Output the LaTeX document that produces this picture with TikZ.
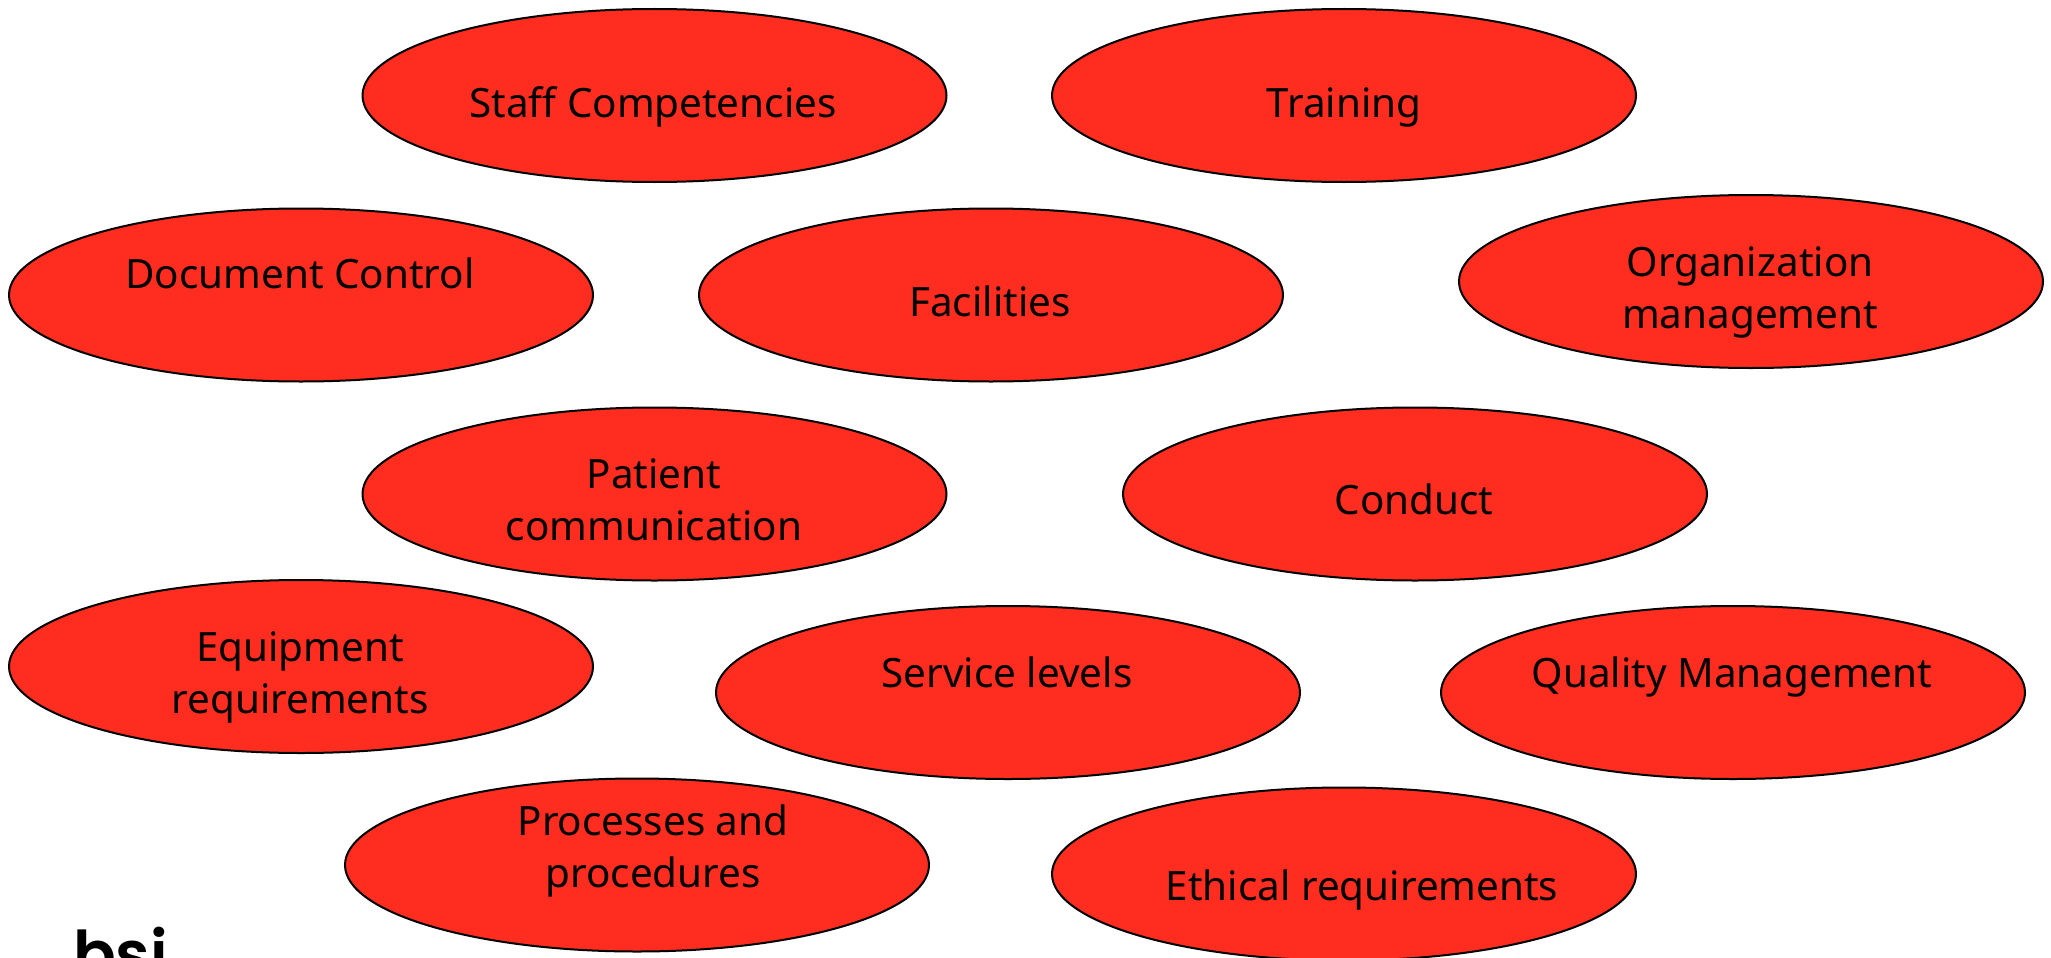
\documentclass[tikz,border=0pt]{standalone}
\usepackage{fontspec}
\setmainfont{Noto Sans}
\newfontfamily\logofont{Poppins}[BoldFont=* SemiBold]
\definecolor{ovalred}{HTML}{FF2D20}
\tikzset{
  oval/.style={ellipse,draw=black,line width=2pt,fill=ovalred,minimum width=584pt,minimum height=173pt,inner sep=0pt},
  lbl/.style={inner sep=0pt,align=center,font=\fontsize{40.4pt}{52pt}\selectfont,text=black},
  logo/.style={inner sep=0pt,anchor=base west,font=\logofont\bfseries\fontsize{63pt}{63pt}\selectfont,text=black}
}
\usetikzlibrary{shapes.geometric}
\begin{document}
\begin{tikzpicture}[x=1pt,y=-1pt]
\useasboundingbox[clip] (0,0) rectangle (2051,958);
\fill[white] (0,0) rectangle (2051,958);
\node[oval] (o1) at (654.5,95.5) {};
\node[oval] (o2) at (1344,95.5) {};
\node[oval] (o3) at (301,295) {};
\node[oval] (o4) at (991,295) {};
\node[oval] (o5) at (1751,281.5) {};
\node[oval] (o6) at (654.5,494) {};
\node[oval] (o7) at (1415,494) {};
\node[oval] (o8) at (301,666.5) {};
\node[oval] (o9) at (1008,692.5) {};
\node[oval] (o10) at (1733,692.5) {};
\node[oval] (o11) at (637,865) {};
\node[oval] (o12) at (1344,874) {};
\node[lbl] (t1) at (653,107) {Staff Competencies};
\node[lbl] (t2) at (1344,107) {Training};
\node[lbl] (t3) at (300,273) {Document Control};
\node[lbl] (t4) at (990,301) {Facilities};
\node[lbl] (t5) at (1750,292) {Organization\\management};
\node[lbl] (t6) at (654,500) {Patient\\communication};
\node[lbl] (t7) at (1414,499) {Conduct};
\node[lbl] (t8) at (300,677) {Equipment\\requirements};
\node[lbl] (t9) at (1007,672) {Service levels};
\node[lbl] (t10) at (1732,677) {Quality Management};
\node[lbl] (t11) at (653,851) {Processes and\\procedures};
\node[lbl] (t12) at (1362,890) {Ethical requirements};
\node[logo] (bsi) at (73,976) {bsi};
\end{tikzpicture}
\end{document}
